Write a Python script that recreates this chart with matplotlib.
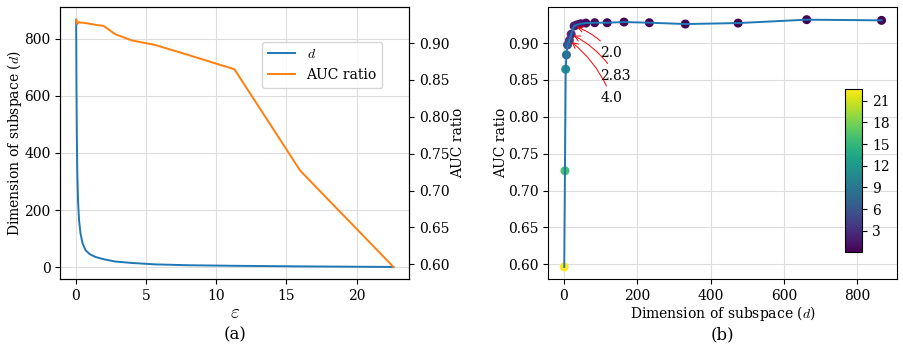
import numpy as np
import matplotlib
matplotlib.use("Agg")
import matplotlib.pyplot as plt
from matplotlib.colors import Normalize

plt.rcParams['font.family'] = ['DejaVu Serif']
plt.rcParams['mathtext.fontset'] = 'cm'

# Data
eps = [0.0442, 0.0625, 0.0884, 0.125, 0.177, 0.25, 0.354, 0.5, 0.707, 1.0,
       1.414, 2.0, 2.83, 4.0, 5.657, 8.0, 11.31, 16.0, 22.63]
dims = [866, 662, 475, 331, 233, 164, 118, 84, 60, 46,
        36, 28, 20, 15, 10, 7, 5, 3, 1]
auc = [0.9308, 0.9317, 0.9271, 0.9258, 0.9276, 0.9285, 0.9276, 0.9276, 0.9271, 0.9262,
       0.9248, 0.9232, 0.9120, 0.9036, 0.8975, 0.8840, 0.8645, 0.7268, 0.5964]
annot_labels = ["2.0", "2.83", "4.0"]
annot_idx = [11, 12, 13]

fig = plt.figure(figsize=(9.04, 3.52), dpi=100)
ax1 = fig.add_axes([0.0667, 0.2065, 0.3861, 0.7727])
ax2 = fig.add_axes([0.6066, 0.2065, 0.3861, 0.7727])

fs_tick = 10
fs_lab = 10

# (a)
l1, = ax1.plot(eps, dims, color='#1f77b4', label='$d$', lw=1.4)
ax1.grid(True, color='#dddddd', lw=0.8)
ax1.set_axisbelow(True)
ax1.set_ylabel('Dimension of subspace ($d$)', fontsize=fs_lab, labelpad=0)
ax1.set_xlabel(r'$\varepsilon$', fontsize=14, labelpad=1)
ax1.tick_params(labelsize=fs_tick)
tw = ax1.twinx()
l2, = tw.plot(eps, auc, color='#ff7f0e', label='AUC ratio', lw=1.4)
tw.set_ylabel('AUC ratio', fontsize=fs_lab, labelpad=1)
tw.tick_params(labelsize=fs_tick)
ax1.set_yticks([0, 200, 400, 600, 800])
tw.set_yticks([0.60, 0.65, 0.70, 0.75, 0.80, 0.85, 0.90])
ax1.legend(handles=[l1, l2], loc='upper right', bbox_to_anchor=(0.9226, 0.8735),
           borderaxespad=0, fontsize=10)
ax1.text(0.5, -0.205, '(a)', transform=ax1.transAxes, ha='center', va='center', fontsize=12)

# (b)
norm = Normalize(vmin=min(eps), vmax=max(eps))
sc = ax2.scatter(dims, auc, c=eps, cmap='viridis', norm=norm, s=30, zorder=2)
ax2.plot(dims, auc, color='#1f77b4', lw=1.4, zorder=3)
ax2.grid(True, color='#dddddd', lw=0.8)
ax2.set_axisbelow(True)
ax2.set_xlabel('Dimension of subspace ($d$)', fontsize=fs_lab, labelpad=1)
ax2.set_ylabel('AUC ratio', fontsize=fs_lab, labelpad=0)
ax2.tick_params(labelsize=fs_tick)
ax2.set_yticks([0.60, 0.65, 0.70, 0.75, 0.80, 0.85, 0.90])
for k, (lab, i) in enumerate(zip(annot_labels, annot_idx)):
    ax2.annotate(lab, xy=(dims[i], auc[i]), xytext=(100, 0.887 - 0.031 * k),
                 fontsize=10, va='center', ha='left',
                 arrowprops=dict(arrowstyle='->', color='red', lw=0.7,
                                 connectionstyle='arc3,rad=0.15'))
ax2.text(0.5, -0.205, '(b)', transform=ax2.transAxes, ha='center', va='center', fontsize=12)

cax = fig.add_axes([0.935, 0.284, 0.019, 0.463])
cb = fig.colorbar(sc, cax=cax, ticks=[3, 6, 9, 12, 15, 18, 21])
cb.ax.tick_params(labelsize=fs_tick)

fig.savefig('out.png', dpi=100)
